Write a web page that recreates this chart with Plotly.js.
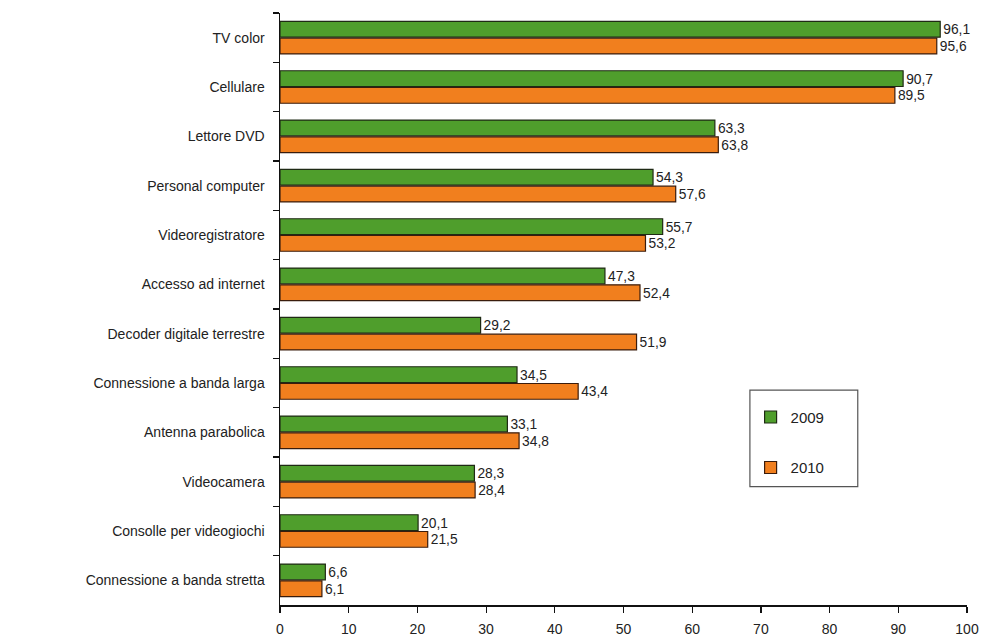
<!DOCTYPE html>
<html>
<head>
<meta charset="utf-8">
<script src="https://cdn.plot.ly/plotly-3.0.1.min.js"></script>
<style>html,body{margin:0;padding:0;background:#fff;}#chart{width:985px;height:642px;}</style>
</head>
<body>
<div id="chart"></div>
<script>
const categories = [
  "TV color", "Cellulare", "Lettore DVD", "Personal computer", "Videoregistratore",
  "Accesso ad internet", "Decoder digitale terrestre", "Connessione a banda larga",
  "Antenna parabolica", "Videocamera", "Consolle per videogiochi", "Connessione a banda stretta"
];
const values2009 = [96.1, 90.7, 63.3, 54.3, 55.7, 47.3, 29.2, 34.5, 33.1, 28.3, 20.1, 6.6];
const values2010 = [95.6, 89.5, 63.8, 57.6, 53.2, 52.4, 51.9, 43.4, 34.8, 28.4, 21.5, 6.1];
const seriesNames = ["2009", "2010"];
const xTicks = [0, 10, 20, 30, 40, 50, 60, 70, 80, 90, 100];

const fmt = v => v.toFixed(1).replace(".", ",");
const FONT = "Liberation Sans, Arial, sans-serif";

const traces = [
  {
    type: "bar", orientation: "h", name: seriesNames[0], legendgroup: "a",
    y: categories, x: values2009,
    text: values2009.map(fmt), textposition: "outside", cliponaxis: false,
    textfont: {family: FONT, size: 14, color: "#222"},
    marker: {color: "#4f9e2c", line: {color: "#1f2a14", width: 1.2}}
  },
  {
    type: "bar", orientation: "h", name: seriesNames[1], legendgroup: "b",
    y: categories, x: values2010,
    text: values2010.map(fmt), textposition: "outside", cliponaxis: false,
    textfont: {family: FONT, size: 14, color: "#222"},
    marker: {color: "#f17f1e", line: {color: "#3a1c0c", width: 1.2}}
  }
];

const layout = {
  width: 985, height: 642,
  margin: {l: 280, r: 18, t: 13, b: 37},
  paper_bgcolor: "#fff", plot_bgcolor: "#fff",
  barmode: "group", bargap: 0.32, bargroupgap: 0.06,
  separators: ",.",
  font: {family: FONT, size: 14, color: "#222"},
  xaxis: {
    range: [0, 100], tickvals: xTicks, ticktext: xTicks.map(String),
    showgrid: false, zeroline: false, showline: true, linecolor: "#111", linewidth: 1.5,
    ticks: "outside", ticklen: 6, tickcolor: "#111", tickwidth: 1.2,
    tickfont: {size: 14, color: "#222"}, ticklabelstandoff: 5, fixedrange: true
  },
  yaxis: {
    autorange: "reversed", type: "category",
    showgrid: false, zeroline: false, showline: true, linecolor: "#111", linewidth: 1.5,
    ticks: "outside", tickson: "boundaries", ticklen: 6, tickcolor: "#111", tickwidth: 1.2,
    tickfont: {size: 14, color: "#222"}, ticklabelstandoff: 11, fixedrange: true
  },
  showlegend: true,
  legend: {
    x: 0.685, y: 0.345, xanchor: "left", yanchor: "top",
    bgcolor: "rgba(0,0,0,0)", borderwidth: 0,
    font: {size: 15, color: "#222"}, tracegroupgap: 28, itemwidth: 30
  },
  shapes: [{
    type: "rect", xref: "paper", yref: "paper",
    x0: 0.684, x1: 0.841, y0: 0.2, y1: 0.363,
    line: {color: "#555", width: 1.2}, fillcolor: "rgba(0,0,0,0)"
  }]
};

Plotly.newPlot("chart", traces, layout, {displayModeBar: false, staticPlot: true});
</script>
</body>
</html>
